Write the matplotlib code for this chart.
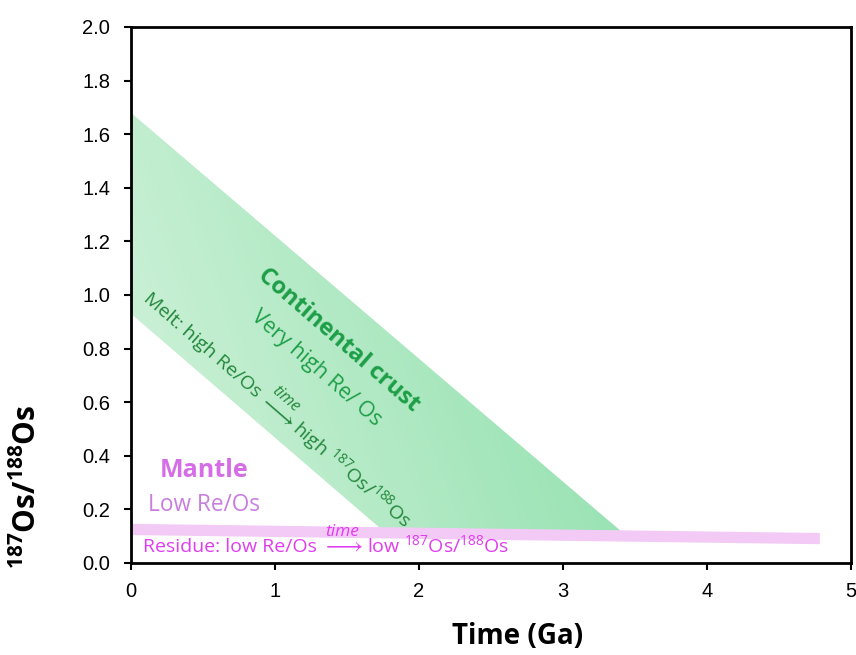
import matplotlib
matplotlib.use("Agg")
import matplotlib.pyplot as plt
import numpy as np
from matplotlib.colors import LinearSegmentedColormap
from matplotlib.patches import Polygon

# continental crust field (time in Ga, 187Os/188Os)
crust_time = [0.0, 3.40, 1.73, 0.0]
crust_ratio = [1.68, 0.12, 0.13, 0.93]

# mantle residue band: centre line and half width
mantle_time = [0.0, 4.78]
mantle_ratio = [0.127, 0.093]
mantle_half = 0.021

x_ticks = [0, 1, 2, 3, 4, 5]
y_ticks = [0.0, 0.2, 0.4, 0.6, 0.8, 1.0, 1.2, 1.4, 1.6, 1.8, 2.0]

FONT = "Open Sans"
plt.rcParams["mathtext.fontset"] = "custom"
plt.rcParams["mathtext.rm"] = FONT
plt.rcParams["mathtext.it"] = FONT + ":italic"
plt.rcParams["mathtext.bf"] = FONT + ":bold"

ARROW = r"$\longrightarrow$"


def put(ax, txt, xy, d, n, angle, ha, **kw):
    # place a text piece d px along and n px normal to a baseline at xy
    a = np.radians(angle)
    ox = (d * np.cos(a) - n * np.sin(a)) * 0.72
    oy = (d * np.sin(a) + n * np.cos(a)) * 0.72
    ax.annotate(txt, xy=xy, xytext=(ox, oy), textcoords="offset points",
                rotation=angle, rotation_mode="anchor", ha=ha,
                va="baseline", family=FONT, zorder=3, **kw)


fig = plt.figure(figsize=(8.56, 6.55), dpi=100)
ax = fig.add_axes([131 / 856, 1 - 563 / 655, 720 / 856, 536 / 655])
ax.set_xlim(0, 5)
ax.set_ylim(0, 2.0)

# green gradient clipped to the crust polygon
poly = Polygon(list(zip(crust_time, crust_ratio)), closed=True,
               facecolor="none", edgecolor="none")
ax.add_patch(poly)
gx, gy = np.meshgrid(np.linspace(0, 5, 300), np.linspace(0, 2, 200))
grad = 0.75 * gx / 3.4 + 0.25 * gy / 1.7
cmap = LinearSegmentedColormap.from_list("crust", ["#d4f3dc", "#88dea8"])
img = ax.imshow(grad, extent=[0, 5, 0, 2], origin="lower", cmap=cmap,
                vmin=0, vmax=1, aspect="auto", zorder=1)
img.set_clip_path(poly)

# mantle band
mt = np.array(mantle_time)
mr = np.array(mantle_ratio)
ax.fill_between(mt, mr - mantle_half, mr + mantle_half,
                color="#f2caf5", lw=0, zorder=2)

green = "#1e9e48"
dgreen = "#23873c"
ax.text(1.44, 0.83, "Continental crust", rotation=-41, fontsize=17,
        fontweight="bold", color=green, family=FONT,
        ha="center", va="center", rotation_mode="anchor", zorder=3)
ax.text(1.285, 0.728, "Very high Re/ Os", rotation=-41, fontsize=15.5,
        color=green, family=FONT,
        ha="center", va="center", rotation_mode="anchor", zorder=3)

# melt label along the crust band
melt_xy = (0.989, 0.556)
put(ax, "Melt: high Re/Os", melt_xy, -24, 0, -41, "right",
    fontsize=14, color=dgreen)
put(ax, ARROW, melt_xy, 0, 0, -41, "center", fontsize=17, color=dgreen)
put(ax, r"high $^{187}$Os/$^{188}$Os", melt_xy, 24, 0, -41, "left",
    fontsize=14, color=dgreen)
put(ax, "time", melt_xy, 0, 15, -41, "center", fontsize=11.5,
    style="italic", color=dgreen)

ax.text(0.51, 0.347, "Mantle", fontsize=18, fontweight="bold",
        color="#d56ee6", family=FONT, ha="center", va="center", zorder=3)
ax.text(0.51, 0.216, "Low Re/Os", fontsize=16.3, color="#c97ddf",
        family=FONT, ha="center", va="center", zorder=3)

# residue label along the mantle band
mag = "#e03cf0"
res_xy = (1.465, 0.041)
put(ax, "Residue: low Re/Os", res_xy, -25, 0, 0, "right",
    fontsize=14, color=mag)
put(ax, ARROW, res_xy, 0, 0, 0, "center", fontsize=17, color=mag)
put(ax, r"low $^{187}$Os/$^{188}$Os", res_xy, 25, 0, 0, "left",
    fontsize=14, color=mag)
put(ax, "time", res_xy, 0, 16, 0, "center", fontsize=12.5,
    style="italic", color=mag)

ax.set_xticks(x_ticks)
ax.set_xticklabels([str(v) for v in x_ticks])
ax.set_yticks(y_ticks)
ax.set_yticklabels([f"{v:.1f}" for v in y_ticks])
for lab in ax.get_xticklabels() + ax.get_yticklabels():
    lab.set_family("Liberation Sans")
    lab.set_fontsize(14.5)
ax.tick_params(axis="both", direction="out", length=5, width=1.5, pad=9)
ax.tick_params(axis="y", pad=10)
for side in ["left", "bottom", "right", "top"]:
    ax.spines[side].set_linewidth(2)
    ax.spines[side].set_zorder(5)

fig.text(518 / 856, 1 - 637 / 655, "Time (Ga)", fontsize=20,
         fontweight="bold", family=FONT, ha="center", va="center")
fig.text(26 / 856, 1 - 487 / 655, r"$\mathbf{^{187}Os/^{188}Os}$",
         fontsize=21.5, rotation=90, ha="center", va="center")

fig.savefig("out.png", dpi=100)
